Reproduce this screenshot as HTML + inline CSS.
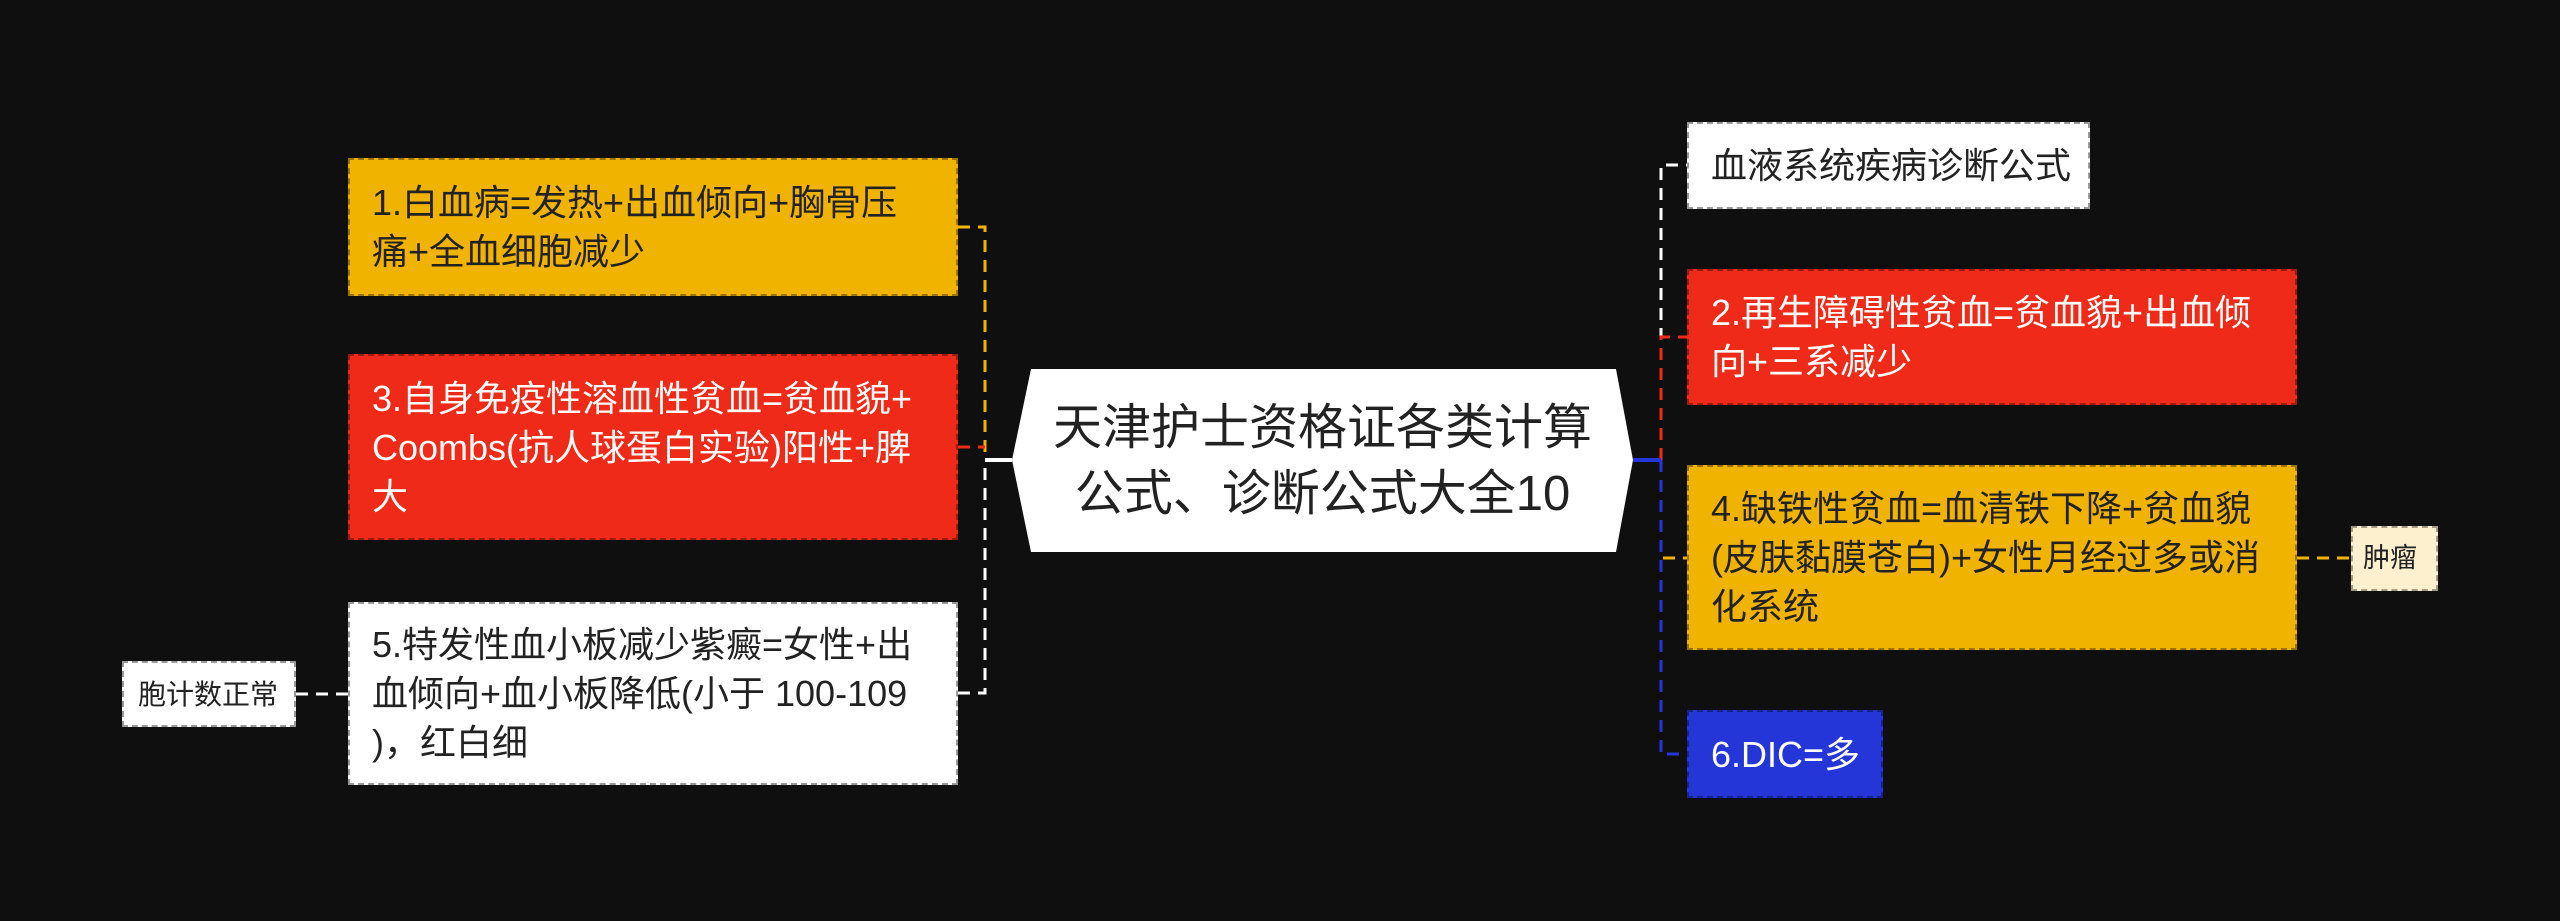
<!DOCTYPE html>
<html><head><meta charset="utf-8"><style>
body{margin:0;width:2560px;height:921px;background:#0f0f0f;overflow:hidden;position:relative;font-family:"Liberation Sans","Noto Sans CJK SC",sans-serif}
.n{position:absolute;box-sizing:border-box;font-size:36px;line-height:49px;padding:0 22px;display:flex;align-items:center;border:2px dashed rgba(0,0,0,.35);white-space:nowrap}
.y{background:#f0b400;color:#222}
.r{background:#ef2a18;color:#fff}
.w{background:#fff;color:#222;border-color:#999}
.b{background:#2436d8;color:#fff}
svg{position:absolute;left:0;top:0}
</style></head><body>
<svg width="2560" height="921">
<g fill="none" stroke-width="3" stroke-dasharray="12,8">
<path d="M958 227 H985 V460" stroke="#f0b400"/>
<path d="M958 693 H985 V460" stroke="#fff"/>
<path d="M958 447 H985" stroke="#ef2a18"/>
<path d="M1661 460 V165 H1687" stroke="#fff"/>
<path d="M1661 460 V558 H1687" stroke="#f0b400"/>
<path d="M1661 460 V754 H1687" stroke="#2436d8"/>
<path d="M1661 460 V337 H1687" stroke="#ef2a18"/>
<path d="M2297 558 H2351" stroke="#f0b400"/>
<path d="M296 694 H348" stroke="#fff"/>
</g>
<path d="M985 460 H1012" stroke="#fff" stroke-width="4"/>
<path d="M1633 460 H1661" stroke="#2436d8" stroke-width="4"/>
<polygon points="1012,460 1031,369 1616,369 1633,460 1616,552 1031,552" fill="#fff"/>
</svg>
<div style="position:absolute;left:1012px;top:369px;width:621px;height:183px;display:flex;align-items:center;justify-content:center;text-align:center;font-size:49px;line-height:66px;color:#222;white-space:nowrap">天津护士资格证各类计算<br>公式、诊断公式大全10</div>
<div class="n y" style="left:348px;top:158px;width:610px;height:138px">1.白血病=发热+出血倾向+胸骨压<br>痛+全血细胞减少</div>
<div class="n r" style="left:348px;top:354px;width:610px;height:186px">3.自身免疫性溶血性贫血=贫血貌+<br>Coombs(抗人球蛋白实验)阳性+脾<br>大</div>
<div class="n w" style="left:348px;top:602px;width:610px;height:183px">5.特发性血小板减少紫癜=女性+出<br>血倾向+血小板降低(小于 100-109<br>)，红白细</div>
<div class="n w" style="left:122px;top:661px;width:174px;height:66px;font-size:28px;padding:0 14px">胞计数正常</div>
<div class="n w" style="left:1687px;top:122px;width:403px;height:87px">血液系统疾病诊断公式</div>
<div class="n r" style="left:1687px;top:269px;width:610px;height:136px">2.再生障碍性贫血=贫血貌+出血倾<br>向+三系减少</div>
<div class="n y" style="left:1687px;top:465px;width:610px;height:185px">4.缺铁性贫血=血清铁下降+贫血貌<br>(皮肤黏膜苍白)+女性月经过多或消<br>化系统</div>
<div class="n b" style="left:1687px;top:710px;width:196px;height:88px">6.DIC=多</div>
<div class="n" style="left:2351px;top:526px;width:87px;height:65px;font-size:27px;padding:0 10px;background:#fdf0cf;color:#222">肿瘤</div>
</body></html>
